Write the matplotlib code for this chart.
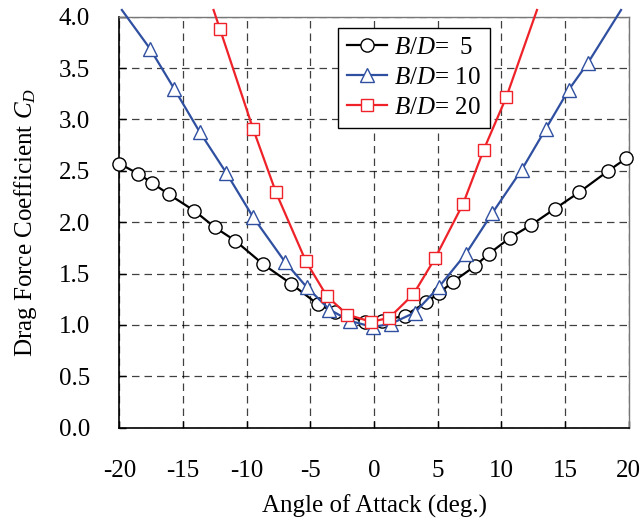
import numpy as np
import matplotlib
matplotlib.use("Agg")
import matplotlib.pyplot as plt

plt.rcParams['font.family'] = ['Liberation Serif', 'DejaVu Serif']
plt.rcParams['mathtext.fontset'] = 'custom'
plt.rcParams['mathtext.rm'] = 'Liberation Serif'
plt.rcParams['mathtext.it'] = 'Liberation Serif:italic'
plt.rcParams['axes.unicode_minus'] = False

# B/D = 5
x5 = [-20.0, -18.5, -17.4, -16.1, -14.1, -12.5, -10.9, -8.7, -6.5, -4.4, -3.1, -0.7,
      0.6, 2.4, 4.1, 5.1, 6.2, 7.9, 9.0, 10.7, 12.3, 14.2, 16.1, 18.4, 19.8]
y5 = [2.57, 2.47, 2.38, 2.27, 2.11, 1.95, 1.82, 1.59, 1.40, 1.20, 1.13, 1.03,
      1.04, 1.09, 1.22, 1.31, 1.42, 1.57, 1.69, 1.85, 1.97, 2.13, 2.29, 2.50, 2.62]

# B/D = 10 (first and last points: where the line leaves the frame, no marker)
x10 = [-19.8, -17.6, -15.7, -13.7, -11.6, -9.5, -7.0, -5.3, -3.5, -1.9, -0.1, 1.3,
       3.2, 5.1, 7.2, 9.3, 11.6, 13.5, 15.3, 16.8, 19.4]
y10 = [4.065, 3.69, 3.30, 2.88, 2.48, 2.05, 1.615, 1.37, 1.15, 1.04, 0.98, 1.01,
       1.12, 1.37, 1.69, 2.09, 2.51, 2.91, 3.29, 3.55, 4.065]

# B/D = 20
x20 = [-12.6, -12.1, -9.5, -7.7, -5.35, -3.7, -2.1, -0.2, 1.2, 3.1, 4.8, 7.0, 8.6, 10.4, 12.8]
y20 = [4.065, 3.88, 2.91, 2.29, 1.62, 1.28, 1.10, 1.03, 1.07, 1.30, 1.65, 2.18, 2.70, 3.22, 4.065]

fig = plt.figure(figsize=(6.44, 5.26), dpi=100)
ax = fig.add_axes([0.1853, 0.1869, 0.7909, 0.7814])

blue = '#2f4fa0'
red = '#ee2228'

ax.plot(x5, y5, color='black', lw=1.6, marker='o', ms=9.5, mfc='white', mec='black',
        mew=1.0, label=r'$B/D$= $\;$5', clip_on=False, zorder=3)
ax.plot(x10, y10, color=blue, lw=1.6, marker='^', ms=10, mfc='white', mec=blue,
        mew=1.0, markevery=slice(1, -1), label=r'$B/D$= 10', clip_on=False, zorder=3)
ax.plot(x20, y20, color=red, lw=1.6, marker='s', ms=8.5, mfc='white', mec=red,
        mew=1.0, markevery=slice(1, -1), label=r'$B/D$= 20', clip_on=False, zorder=3)

ax.set_xlim(-20, 20)
ax.set_ylim(0, 4)
ax.set_xticks(np.arange(-20, 21, 5))
ax.set_yticks(np.arange(0, 4.01, 0.5))
ax.set_yticklabels(['%.1f' % v for v in np.arange(0, 4.01, 0.5)])
ax.tick_params(direction='in', length=5, width=1, labelsize=18)
ax.tick_params(axis='x', pad=23)
ax.tick_params(axis='y', pad=21)
ax.grid(True, color='black', ls=(0, (6, 4)), lw=0.9, alpha=0.75)
ax.set_axisbelow(True)

for s in ['left', 'bottom']:
    ax.spines[s].set_linewidth(1.2)
for s in ['top', 'right']:
    ax.spines[s].set_color('#777777')
    ax.spines[s].set_linewidth(1.0)

ax.set_xlabel('Angle of Attack (deg.)', fontsize=18, labelpad=9)
ax.set_ylabel(r'Drag Force Coefficient $C_D$', fontsize=18, labelpad=14)

leg = ax.legend(loc='upper left', bbox_to_anchor=(0.429, 0.9725), fontsize=18,
                fancybox=False, framealpha=1, edgecolor='black', handlelength=1.6,
                handletextpad=0.3, labelspacing=0.3, borderpad=0.35, borderaxespad=0)
leg.get_frame().set_linewidth(1.0)

fig.savefig('out.png', dpi=100)
